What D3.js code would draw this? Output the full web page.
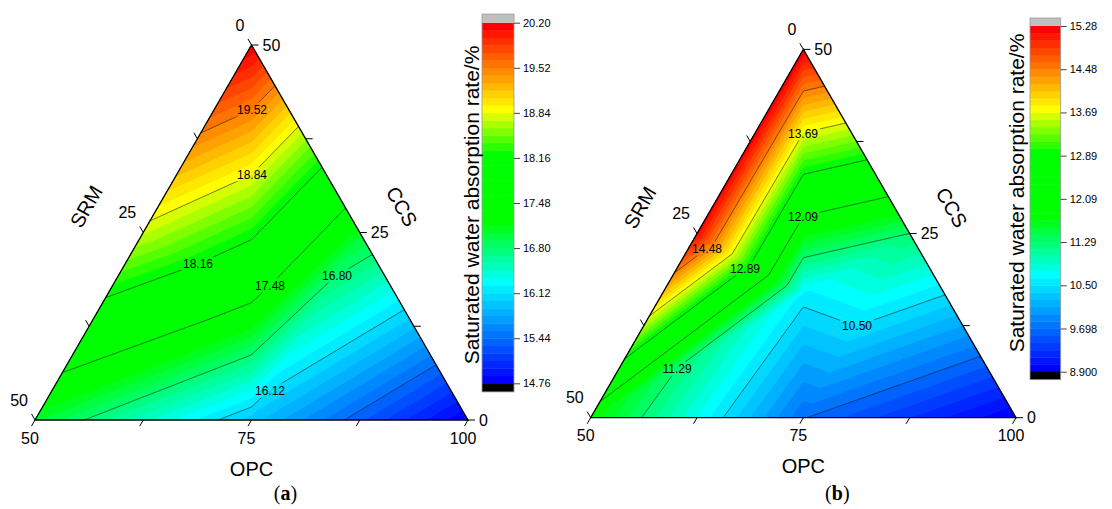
<!DOCTYPE html>
<html>
<head>
<meta charset="utf-8">
<script src="https://cdn.jsdelivr.net/npm/d3@7"></script>
<style>
  body { margin: 0; background: #fff; }
  svg text { font-family: "Liberation Sans", Arial, sans-serif; }
</style>
</head>
<body>
<script>
// mixture design points, OPC + SRM + CCS = 100
const opc = [50, 50, 100, 50, 75, 75, 66.67];
const srm = [0, 50, 0, 25, 0, 25, 16.67];
const ccs = [50, 0, 0, 25, 25, 0, 16.67];

// saturated water absorption rate (%) at each design point
const rateA = [20.20, 17.05, 14.76, 18.75, 17.07, 15.95, 17.58];
const rateB = [15.28, 11.79, 8.90, 15.22, 11.29, 9.71, 10.58];

// triangles joining the design points (indices into the arrays above)
const mesh = [[0, 3, 6], [0, 6, 4], [3, 1, 6], [1, 5, 6], [6, 5, 4], [5, 2, 4]];

// colour scale tick labels
const cbTicksA = ["14.76", "15.44", "16.12", "16.80", "17.48", "18.16", "18.84", "19.52", "20.20"];
const cbTicksB = ["8.900", "9.698", "10.50", "11.29", "12.09", "12.89", "13.69", "14.48", "15.28"];

// ternary axis ticks (percent along each axis), labelled every 25
const axisTicks = [0, 12.5, 25, 37.5, 50];

const W = 1112, H = 509;
const svg = d3.select("body").append("svg").attr("width", W).attr("height", H);
const defs = svg.append("defs");

const nBands = 48;
const palette = d3.scaleLinear()
  .domain([0, 13, 21, 30, 36, 47])
  .range(["#0000ff", "#00ffff", "#00ff00", "#00ff00", "#ffff00", "#ff0000"])
  .interpolate(d3.interpolateRgb);

const panels = [
  { id: "a", x0: 35, y0: 420, side: 433, values: rateA, min: 14.76, max: 20.20, ticks: cbTicksA,
    cb: { x: 482, w: 32, top: 22.7, bottom: 383.3, cap: 8.6 }, titleX: 472, titleY: 205,
    labels: [[7, 252, 107], [6, 252, 173], [5, 198, 263], [4, 270, 284], [3, 337, 272], [2, 270, 387]] },
  { id: "b", x0: 590.7, y0: 417.7, side: 425.3, values: rateB, min: 8.90, max: 15.28, ticks: cbTicksB,
    cb: { x: 1030, w: 30.7, top: 26, bottom: 371.7, cap: 8 }, titleX: 1016.5, titleY: 193,
    labels: [[6, 803, 129], [4, 803, 213], [7, 707, 237], [5, 745, 260], [3, 677, 366], [2, 857, 323]] }
];

panels.forEach(drawPanel);

function drawPanel(p) {
  const L = p.side, h = L * Math.sqrt(3) / 2;
  const sx = d3.scaleLinear().domain([50, 100]).range([p.x0, p.x0 + L]);
  const sc = d3.scaleLinear().domain([0, 50]).range([0, 1]);
  const pos = (o, c) => [sx(o) + sc(c) * L / 2, p.y0 - sc(c) * h];

  const BL = pos(50, 0), BR = pos(100, 0), T = pos(50, 50);
  const triPath = `M${BL}L${BR}L${T}Z`;

  // linear interpolation inside each mesh triangle
  const nodes = opc.map((o, i) => pos(o, ccs[i]));
  const tris = mesh.map(([i, j, k]) => {
    const [x1, y1] = nodes[i], [x2, y2] = nodes[j], [x3, y3] = nodes[k];
    return { i, j, k, x1, y1, x2, y2, x3, y3, det: (y2 - y3) * (x1 - x3) + (x3 - x2) * (y1 - y3) };
  });
  const vals = p.values;
  function field(x, y) {
    let best, bm = -Infinity, bw;
    for (const t of tris) {
      const w1 = ((t.y2 - t.y3) * (x - t.x3) + (t.x3 - t.x2) * (y - t.y3)) / t.det;
      const w2 = ((t.y3 - t.y1) * (x - t.x3) + (t.x1 - t.x3) * (y - t.y3)) / t.det;
      const w3 = 1 - w1 - w2;
      const m = Math.min(w1, w2, w3);
      if (m > bm) { bm = m; best = t; bw = [w1, w2, w3]; }
    }
    return bw[0] * vals[best.i] + bw[1] * vals[best.j] + bw[2] * vals[best.k];
  }

  const step = 1.5;
  const gx0 = p.x0 - 6, gy0 = p.y0 - h - 6;
  const nx = Math.ceil((L + 12) / step) + 1, ny = Math.ceil((h + 12) / step) + 1;
  const grid = new Float64Array(nx * ny);
  for (let j = 0; j < ny; j++)
    for (let i = 0; i < nx; i++) grid[j * nx + i] = field(gx0 + i * step, gy0 + j * step);

  const contours = d3.contours().size([nx, ny]);
  const path = d3.geoPath(d3.geoTransform({
    point(x, y) { this.stream.point(gx0 + (x - 0.5) * step, gy0 + (y - 0.5) * step); }
  }));

  defs.append("clipPath").attr("id", "clip-" + p.id).append("path").attr("d", triPath);
  const plot = svg.append("g").attr("clip-path", `url(#clip-${p.id})`);

  plot.append("path").attr("d", triPath).attr("fill", "#000");
  const bandStep = (p.max - p.min) / nBands;
  for (let k = 0; k <= nBands; k++) {
    const thr = k === nBands ? p.max - 1e-9 : p.min + k * bandStep - 1e-9;
    plot.append("path")
      .attr("d", path(contours.contour(grid, thr)))
      .attr("fill", k === nBands ? "#c0c0c0" : palette(k));
  }

  // labelled contour positions (snapped onto the line)
  const levels = d3.range(9).map(m => p.min + m * (p.max - p.min) / 8);
  const labelG = svg.append("g");
  const labs = p.labels.map(([idx, hx, hy]) => {
    const lv = levels[idx];
    let by = hy, bd = Infinity;
    for (let y = hy - 25; y < hy + 25; y += 0.25) {
      const f1 = field(hx, y) - lv, f2 = field(hx, y + 0.25) - lv;
      if (f1 * f2 <= 0) {
        const yy = y + 0.25 * f1 / (f1 - f2);
        if (Math.abs(yy - hy) < bd) { bd = Math.abs(yy - hy); by = yy; }
      }
    }
    const t = labelG.append("text").attr("x", hx).attr("y", by).attr("dy", "0.36em")
      .attr("text-anchor", "middle").attr("font-size", 12).attr("fill", "#000").text(p.ticks[idx]);
    return { x: hx, y: by, w: t.node().getComputedTextLength() };
  });

  const mask = defs.append("mask").attr("id", "gap-" + p.id)
    .attr("maskUnits", "userSpaceOnUse").attr("x", 0).attr("y", 0).attr("width", W).attr("height", H);
  mask.append("rect").attr("width", W).attr("height", H).attr("fill", "#fff");
  labs.forEach(l => mask.append("rect").attr("x", l.x - l.w / 2 - 2).attr("y", l.y - 7)
    .attr("width", l.w + 4).attr("height", 14).attr("fill", "#000"));

  const lineG = plot.append("g").attr("mask", `url(#gap-${p.id})`);
  levels.slice(1, 8).forEach(lv => {
    lineG.append("path").attr("d", path(contours.contour(grid, lv)))
      .attr("fill", "none").attr("stroke", "#1a1a1a").attr("stroke-width", 0.6);
  });
  labelG.raise();

  // frame
  const axes = svg.append("g");
  axes.append("path").attr("d", triPath).attr("fill", "none").attr("stroke", "#000").attr("stroke-width", 1.3);

  const tl = 7, r3 = Math.sqrt(3) / 2;
  const tickLine = (a, dx, dy) => axes.append("line").attr("x1", a[0]).attr("y1", a[1])
    .attr("x2", a[0] + dx * tl).attr("y2", a[1] + dy * tl).attr("stroke", "#000").attr("stroke-width", 1);
  const txt = (x, y, s, anchor) => axes.append("text").attr("x", x).attr("y", y).attr("dy", "0.35em")
    .attr("text-anchor", anchor).attr("font-size", 16).text(s);

  axisTicks.forEach(t => {
    const lab = t % 25 === 0;
    // OPC along the bottom
    const a = pos(50 + t, 0);
    tickLine(a, -0.5, r3);
    if (lab) txt(a[0] - 5, a[1] + 18, 50 + t, "middle");
    // SRM along the left side (0 at apex)
    const b = pos(50, 50 - t);
    tickLine(b, -0.5, -r3);
    if (lab) txt(b[0] - 7, b[1] - 20, t, "end");
    // CCS along the right side (0 at bottom right)
    const c = pos(100 - t, t);
    tickLine(c, 1, 0);
    if (lab) txt(c[0] + 11, c[1], t, "start");
  });

  const Ml = pos(50, 25), Mr = pos(75, 25);
  axes.append("text").attr("x", p.x0 + L / 2).attr("y", p.y0 + 48.5).attr("dy", "0.35em")
    .attr("text-anchor", "middle").attr("font-size", 20).text("OPC");
  axes.append("text").attr("transform", `translate(${Ml[0] - 57},${Ml[1] - 26}) rotate(-60)`)
    .attr("dy", "0.35em").attr("text-anchor", "middle").attr("font-size", 20).text("SRM");
  axes.append("text").attr("transform", `translate(${Mr[0] + 42},${Mr[1] - 26}) rotate(60)`)
    .attr("dy", "0.35em").attr("text-anchor", "middle").attr("font-size", 20).text("CCS");

  const cap = axes.append("text").attr("x", p.x0 + L / 2 + 34).attr("y", 500)
    .attr("text-anchor", "middle").attr("font-size", 20)
    .style("font-family", '"Liberation Serif", "Times New Roman", serif');
  cap.append("tspan").text("(");
  cap.append("tspan").attr("font-weight", "bold").text(p.id);
  cap.append("tspan").text(")");

  // colour scale
  const cb = p.cb;
  const yc = d3.scaleLinear().domain([p.min, p.max]).range([cb.bottom, cb.top]);
  const cbG = svg.append("g");
  d3.range(nBands).forEach(k => {
    const v0 = p.min + k * bandStep, v1 = v0 + bandStep;
    cbG.append("rect").attr("x", cb.x).attr("width", cb.w)
      .attr("y", yc(v1)).attr("height", yc(v0) - yc(v1) + 0.4).attr("fill", palette(k));
  });
  cbG.append("rect").attr("x", cb.x).attr("width", cb.w).attr("y", cb.top - cb.cap)
    .attr("height", cb.cap).attr("fill", "#c0c0c0");
  cbG.append("rect").attr("x", cb.x).attr("width", cb.w).attr("y", cb.bottom)
    .attr("height", cb.cap).attr("fill", "#000");
  cbG.append("rect").attr("x", cb.x).attr("width", cb.w).attr("y", cb.top - cb.cap)
    .attr("height", cb.bottom - cb.top + 2 * cb.cap).attr("fill", "none")
    .attr("stroke", "#999").attr("stroke-width", 0.8);

  const ax = cbG.append("g").attr("transform", `translate(${cb.x + cb.w},0)`)
    .call(d3.axisRight(yc).tickValues(levels).tickFormat((d, i) => p.ticks[i]).tickSize(6).tickPadding(3));
  ax.select(".domain").remove();
  ax.selectAll("line").attr("stroke", "#444");
  ax.selectAll("text").attr("font-size", 11).attr("font-family", '"Liberation Sans", Arial, sans-serif');

  cbG.append("text").attr("transform", `translate(${p.titleX},${p.titleY}) rotate(-90)`)
    .attr("dy", "0.35em").attr("text-anchor", "middle").attr("font-size", 21)
    .text("Saturated water absorption rate/%");
}
</script>
</body>
</html>
